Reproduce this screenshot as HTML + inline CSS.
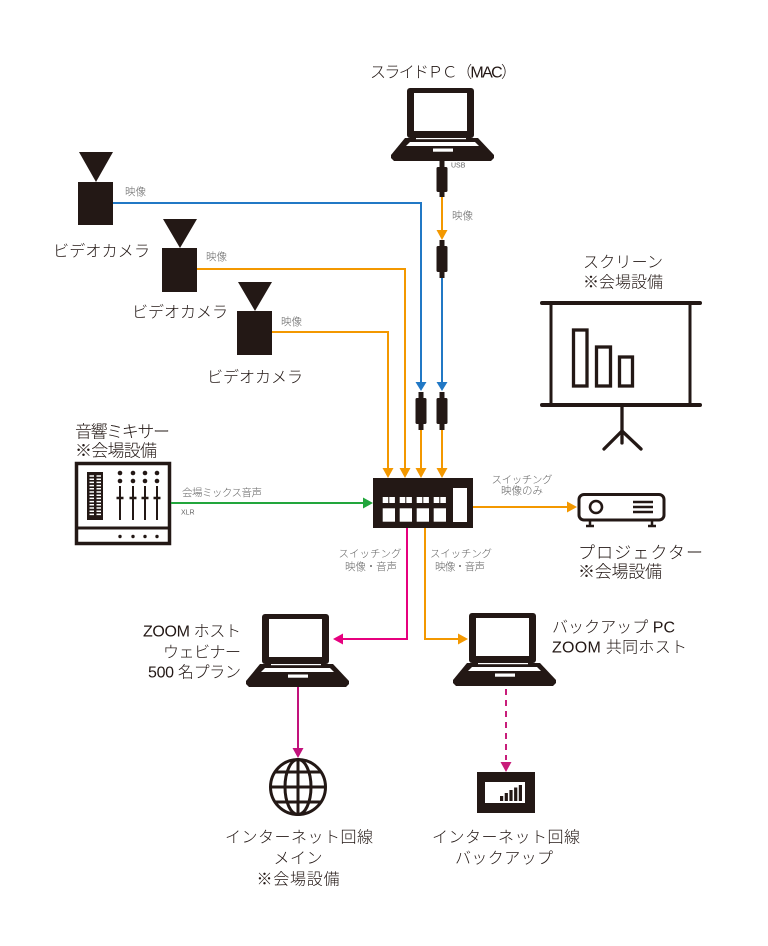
<!DOCTYPE html>
<html><head><meta charset="utf-8"><style>
html,body{margin:0;padding:0;background:#fff;}
svg{display:block;}
text{font-family:"Liberation Sans","Noto Sans CJK JP",sans-serif;fill:#231815;font-weight:300;}
.L{font-size:16px;}
.s{font-size:10.5px;fill:#666;}
.t{font-size:7px;fill:#666;}
</style></head><body>
<svg width="768" height="946" viewBox="0 0 768 946" xmlns="http://www.w3.org/2000/svg">
<defs>
<g id="lap">
  <rect x="16" y="0" width="67" height="50" rx="3" fill="#231815"/>
  <rect x="23" y="5" width="53" height="38" fill="#fff"/>
  <polygon points="14,50 87,50 103,67 103,70 100,73 3,73 0,70 0,67" fill="#231815"/>
  <rect x="25" y="50" width="50" height="1.2" fill="#fff"/>
  <polygon points="19,54 84,54 88,58 15,58" fill="#fff"/>
  <rect x="42" y="60.5" width="20" height="3.2" fill="#fff"/>
</g>
<g id="conv">
  <rect x="-2.5" y="0" width="5" height="7" fill="#231815"/>
  <rect x="-5.5" y="6" width="11" height="26" rx="1.5" fill="#231815"/>
  <rect x="-2.5" y="31" width="5" height="7" fill="#231815"/>
</g>
</defs>

<!-- ===== Slide PC ===== -->
<text class="L" x="370" y="73" dominant-baseline="central" textLength="147">スライドＰＣ（MAC）</text>
<use href="#lap" x="391" y="88"/>
<g transform="translate(442,161)"><rect x="-2.5" y="0" width="5" height="7" fill="#231815"/><rect x="-5.5" y="6" width="11" height="25" rx="1.5" fill="#231815"/><rect x="-2.5" y="30" width="5" height="6" fill="#231815"/></g>
<text class="t" x="451" y="166" dominant-baseline="central">USB</text>
<line x1="442" y1="197" x2="442" y2="232" stroke="#f39800" stroke-width="2"/>
<polygon points="436.5,230 447.5,230 442,240" fill="#f39800"/>
<text class="s" x="452" y="216" dominant-baseline="central">映像</text>
<use href="#conv" x="442" y="240"/>
<line x1="442" y1="278" x2="442" y2="384" stroke="#2178c5" stroke-width="2"/>
<polygon points="436.5,382 447.5,382 442,391" fill="#2178c5"/>
<use href="#conv" x="442" y="392"/>
<line x1="442" y1="430" x2="442" y2="470" stroke="#f39800" stroke-width="2"/>

<!-- ===== Cameras ===== -->
<polygon points="79,152 113,152 96,182" fill="#231815"/>
<rect x="78" y="182" width="35" height="43" fill="#231815"/>
<text class="L" x="53" y="252" dominant-baseline="central" textLength="97">ビデオカメラ</text>
<text class="s" x="125" y="192" dominant-baseline="central">映像</text>
<polyline points="113,203 421,203 421,384" fill="none" stroke="#2178c5" stroke-width="2"/>
<polygon points="415.5,382 426.5,382 421,391" fill="#2178c5"/>
<use href="#conv" x="421" y="392"/>
<line x1="421" y1="430" x2="421" y2="470" stroke="#f39800" stroke-width="2"/>

<polygon points="163,219 197,219 180,248" fill="#231815"/>
<rect x="162" y="248" width="35" height="44" fill="#231815"/>
<text class="L" x="132" y="313" dominant-baseline="central" textLength="96">ビデオカメラ</text>
<text class="s" x="206" y="257" dominant-baseline="central">映像</text>
<polyline points="197,269 405,269 405,470" fill="none" stroke="#f39800" stroke-width="2"/>

<polygon points="238,282 272,282 255,311" fill="#231815"/>
<rect x="237" y="311" width="35" height="44" fill="#231815"/>
<text class="L" x="207" y="378" dominant-baseline="central" textLength="96">ビデオカメラ</text>
<text class="s" x="281" y="322" dominant-baseline="central">映像</text>
<polyline points="272,332 388,332 388,470" fill="none" stroke="#f39800" stroke-width="2"/>

<polygon points="382.5,468 393.5,468 388,478" fill="#f39800"/>
<polygon points="399.5,468 410.5,468 405,478" fill="#f39800"/>
<polygon points="415.5,468 426.5,468 421,478" fill="#f39800"/>
<polygon points="436.5,468 447.5,468 442,478" fill="#f39800"/>

<!-- ===== Switcher ===== -->
<rect x="373" y="478" width="100" height="50" fill="#231815"/>
<g fill="#fff">
  <rect x="382.7" y="497" width="5.6" height="6"/><rect x="389.3" y="497" width="5.6" height="6"/><rect x="382.7" y="508.3" width="12.3" height="13.4"/>
  <rect x="399.7" y="497" width="5.6" height="6"/><rect x="406.3" y="497" width="5.6" height="6"/><rect x="399.7" y="508.3" width="12.3" height="13.4"/>
  <rect x="416.7" y="497" width="5.6" height="6"/><rect x="423.3" y="497" width="5.6" height="6"/><rect x="416.7" y="508.3" width="12.3" height="13.4"/>
  <rect x="433.7" y="497" width="5.6" height="6"/><rect x="440.3" y="497" width="5.6" height="6"/><rect x="433.7" y="508.3" width="12.3" height="13.4"/>
  <rect x="453" y="488" width="14" height="34"/>
</g>

<!-- ===== Mixer ===== -->
<text class="L" x="75" y="432" dominant-baseline="central" textLength="95" style="font-size:17px">音響ミキサー</text>
<text class="L" x="75" y="451" dominant-baseline="central" textLength="82" style="font-size:17px">※会場設備</text>
<rect x="76.5" y="463.5" width="93" height="80" fill="#fff" stroke="#231815" stroke-width="3.5"/>
<line x1="76" y1="528" x2="170" y2="528" stroke="#231815" stroke-width="3"/>
<g fill="#231815"><circle cx="120" cy="536.5" r="1.7"/><circle cx="133" cy="536.5" r="1.7"/><circle cx="145" cy="536.5" r="1.7"/><circle cx="157" cy="536.5" r="1.7"/></g>
<rect x="87" y="472" width="16" height="48" fill="#231815"/>
<g stroke="#fff" stroke-width="1.5">
  <path d="M89.5 476h4.5M96.5 476h4.5M89.5 479.2h4.5M96.5 479.2h4.5M89.5 482.4h4.5M96.5 482.4h4.5M89.5 485.6h4.5M96.5 485.6h4.5M89.5 488.8h4.5M96.5 488.8h4.5M89.5 492h4.5M96.5 492h4.5M89.5 495.2h4.5M96.5 495.2h4.5M89.5 498.4h4.5M96.5 498.4h4.5M89.5 501.6h4.5M96.5 501.6h4.5M89.5 504.8h4.5M96.5 504.8h4.5M89.5 508h4.5M96.5 508h4.5M89.5 511.2h4.5M96.5 511.2h4.5M89.5 514.4h4.5M96.5 514.4h4.5"/>
</g>
<g fill="#231815">
  <circle cx="120" cy="473" r="2.3"/><circle cx="120" cy="481" r="2.3"/>
  <circle cx="133" cy="473" r="2.3"/><circle cx="133" cy="481" r="2.3"/>
  <circle cx="145" cy="473" r="2.3"/><circle cx="145" cy="481" r="2.3"/>
  <circle cx="157" cy="473" r="2.3"/><circle cx="157" cy="481" r="2.3"/>
</g>
<g stroke="#231815" stroke-width="2">
  <path d="M120 486v34M133 486v34M145 486v34M157 486v34"/>
  <path d="M116.5 498h7M129.5 498h7M141.5 498h7M153.5 498h7" stroke-width="2.4"/>
</g>
<text class="s" x="182" y="493" dominant-baseline="central" textLength="80">会場ミックス音声</text>
<text class="t" x="181" y="513" dominant-baseline="central">XLR</text>
<line x1="171" y1="503" x2="365" y2="503" stroke="#22a63c" stroke-width="2"/>
<polygon points="363,497.5 363,508.5 373,503" fill="#22a63c"/>

<!-- ===== Screen ===== -->
<text class="L" x="583" y="263" dominant-baseline="central" textLength="80">スクリーン</text>
<text class="L" x="583" y="283" dominant-baseline="central" textLength="80">※会場設備</text>
<g stroke="#231815" stroke-linecap="round" fill="none">
  <line x1="542" y1="303" x2="700" y2="303" stroke-width="4"/>
  <line x1="542" y1="405" x2="700" y2="405" stroke-width="4"/>
  <line x1="551" y1="303" x2="551" y2="405" stroke-width="3"/>
  <line x1="690" y1="303" x2="690" y2="405" stroke-width="3"/>
  <rect x="573.5" y="330" width="13.5" height="56" stroke-width="3.3" stroke-linecap="butt"/>
  <rect x="596.5" y="347" width="14" height="39" stroke-width="3.3" stroke-linecap="butt"/>
  <rect x="619.5" y="357" width="13" height="29" stroke-width="3.3" stroke-linecap="butt"/>
  <line x1="622" y1="405" x2="622" y2="443" stroke-width="3.3"/>
  <line x1="622" y1="431" x2="604" y2="449" stroke-width="3.3"/>
  <line x1="622" y1="431" x2="641" y2="449" stroke-width="3.3"/>
</g>

<!-- ===== Projector ===== -->
<text class="s" x="522" y="480" dominant-baseline="central" text-anchor="middle" textLength="61">スイッチング</text>
<text class="s" x="522" y="491" dominant-baseline="central" text-anchor="middle">映像のみ</text>
<line x1="473" y1="507" x2="569" y2="507" stroke="#f39800" stroke-width="2"/>
<polygon points="567,501.5 567,512.5 577,507" fill="#f39800"/>
<g stroke="#231815" fill="none">
  <rect x="579" y="494.5" width="85" height="25.5" rx="5" stroke-width="3" fill="#fff"/>
  <circle cx="596" cy="507" r="6" stroke-width="2.6"/>
  <path d="M633 502h20M633 507h20M633 512h20" stroke-width="2.5"/>
  <path d="M590 520v6M586 526h8M652 520v6M648 526h8" stroke-width="2.5"/>
</g>
<text class="L" x="578" y="553" dominant-baseline="central" textLength="125" style="font-size:17px">プロジェクター</text>
<text class="L" x="578" y="572" dominant-baseline="central" textLength="84" style="font-size:17px">※会場設備</text>

<!-- ===== Outputs ===== -->
<text class="s" x="370" y="554" dominant-baseline="central" text-anchor="middle" textLength="63">スイッチング</text>
<text class="s" x="371" y="567" dominant-baseline="central" text-anchor="middle" textLength="52">映像・音声</text>
<polyline points="407,528 407,639 341,639" fill="none" stroke="#e6007e" stroke-width="2"/>
<polygon points="343,633.5 343,644.5 333,639" fill="#e6007e"/>

<text class="s" x="461" y="554" dominant-baseline="central" text-anchor="middle" textLength="62">スイッチング</text>
<text class="s" x="460" y="567" dominant-baseline="central" text-anchor="middle" textLength="50">映像・音声</text>
<polyline points="425,528 425,639 460,639" fill="none" stroke="#f39800" stroke-width="2"/>
<polygon points="458,633.5 458,644.5 468,639" fill="#f39800"/>

<use href="#lap" x="246" y="614"/>
<text class="L" x="241" y="632" dominant-baseline="central" text-anchor="end" textLength="98">ZOOM ホスト</text>
<text class="L" x="241" y="653" dominant-baseline="central" text-anchor="end" textLength="78">ウェビナー</text>
<text class="L" x="241" y="673" dominant-baseline="central" text-anchor="end" textLength="93">500 名プラン</text>

<use href="#lap" x="453" y="613"/>
<text class="L" x="552" y="628" dominant-baseline="central" textLength="123">バックアップ PC</text>
<text class="L" x="552" y="648" dominant-baseline="central" textLength="135">ZOOM 共同ホスト</text>

<line x1="298" y1="687" x2="298" y2="750" stroke="#c2127c" stroke-width="2"/>
<polygon points="292.5,748 303.5,748 298,758" fill="#c2127c"/>
<g stroke="#231815" fill="none" stroke-width="3">
  <circle cx="298" cy="787" r="27.5"/>
  <ellipse cx="298" cy="787" rx="13" ry="27.5"/>
  <line x1="298" y1="759" x2="298" y2="815"/>
  <line x1="270" y1="787" x2="326" y2="787"/>
  <line x1="274" y1="772" x2="322" y2="772"/>
  <line x1="274" y1="802" x2="322" y2="802"/>
</g>
<text class="L" x="225" y="838" dominant-baseline="central" textLength="148">インターネット回線</text>
<text class="L" x="298" y="859" dominant-baseline="central" text-anchor="middle" textLength="49">メイン</text>
<text class="L" x="298" y="880" dominant-baseline="central" text-anchor="middle" textLength="83">※会場設備</text>

<line x1="506" y1="689" x2="506" y2="760" stroke="#c81d7a" stroke-width="2" stroke-dasharray="6,5"/>
<polygon points="500.5,762 511.5,762 506,772" fill="#c81d7a"/>
<rect x="477" y="772" width="58" height="41" fill="#231815"/>
<rect x="485" y="782" width="40" height="21" fill="#fff"/>
<g fill="#231815">
  <rect x="500" y="796" width="3.2" height="5"/>
  <rect x="504.7" y="793" width="3.2" height="8"/>
  <rect x="509.4" y="790" width="3.2" height="11"/>
  <rect x="514.1" y="787.5" width="3.2" height="13.5"/>
  <rect x="518.8" y="785" width="3.2" height="16"/>
</g>
<text class="L" x="432" y="838" dominant-baseline="central" textLength="148">インターネット回線</text>
<text class="L" x="504" y="859" dominant-baseline="central" text-anchor="middle" textLength="98">バックアップ</text>
</svg>
</body></html>
